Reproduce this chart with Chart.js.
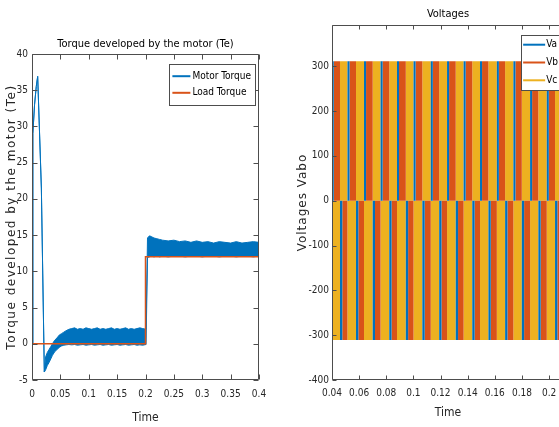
<!DOCTYPE html>
<html><head><meta charset="utf-8">
<script src="https://cdn.jsdelivr.net/npm/chart.js@4.4.1/dist/chart.umd.min.js"></script>
<style>
html,body{margin:0;padding:0;overflow:hidden;background:#fff;width:559px;height:427px;}
#c1{position:absolute;left:0;top:0;}
#c2{position:absolute;left:290px;top:0;}
</style></head><body>
<canvas id="c1" width="290" height="427"></canvas>
<canvas id="c2" width="280" height="427"></canvas>
<script>
// ---------------- Torque chart data ----------------
const torqueTitle = 'Torque developed by the motor (Te)';
const torqueXTicks = [0, 0.05, 0.1, 0.15, 0.2, 0.25, 0.3, 0.35, 0.4];
const torqueYTicks = [-5, 0, 5, 10, 15, 20, 25, 30, 35, 40];
const motorTime  = [0, 0.0015, 0.0045, 0.0075, 0.0100, 0.0165, 0.0217, 0.0240, 0.0270, 0.0300, 0.0330, 0.0360, 0.0400, 0.0440, 0.0480, 0.0520, 0.0560, 0.0600,
  0.065, 0.070, 0.075, 0.080, 0.085, 0.090, 0.095, 0.100, 0.105, 0.110, 0.115, 0.120, 0.125, 0.130, 0.135, 0.140, 0.145, 0.150, 0.155, 0.160, 0.165, 0.170, 0.175, 0.180, 0.185, 0.190, 0.195, 0.201,
  0.2035, 0.207, 0.210, 0.215, 0.220, 0.225, 0.230, 0.240, 0.250, 0.260, 0.270, 0.280, 0.290, 0.300, 0.310, 0.320, 0.330, 0.340, 0.350, 0.360, 0.370, 0.380, 0.390, 0.400];
const motorUpper = [0, 29, 33, 35.5, 36.9, 21.5, -3.9, -1.8, -1.2, -0.8, -0.4, 0.0, 0.5, 0.8, 1.2, 1.4, 1.6, 1.8,
  2.0, 2.1, 2.2, 2.0, 2.1, 2.0, 2.2, 2.1, 2.0, 2.1, 2.2, 2.0, 2.1, 2.0, 2.1, 2.2, 2.0, 2.1, 2.0, 2.1, 2.2, 2.0, 2.1, 2.0, 2.1, 2.2, 2.1, 2.0,
  14.6, 14.9, 14.8, 14.6, 14.5, 14.4, 14.3, 14.2, 14.3, 14.1, 14.2, 14.0, 14.2, 14.0, 14.1, 13.9, 14.1, 14.0, 13.9, 14.1, 13.9, 14.0, 14.1, 14.0];
const motorLower = [0, 29, 33, 35.5, 36.9, 21.5, -3.9, -3.6, -3.0, -2.6, -2.1, -1.6, -1.1, -0.8, -0.5, -0.3, -0.2, -0.15,
  -0.1, -0.15, -0.1, -0.2, -0.15, -0.1, -0.2, -0.15, -0.1, -0.2, -0.15, -0.1, -0.2, -0.15, -0.1, -0.2, -0.15, -0.1, -0.2, -0.15, -0.1, -0.2, -0.15, -0.1, -0.2, -0.15, -0.2, -0.1,
  11.9, 12.0, 12.1, 12.0, 12.1, 12.0, 12.1, 12.0, 12.1, 12.1, 12.0, 12.1, 12.1, 12.0, 12.1, 12.1, 12.0, 12.1, 12.1, 12.0, 12.1, 12.1, 12.0, 12.1];
const loadTime  = [0, 0.2, 0.2, 0.4];
const loadValue = [0, 0, 12, 12];

// ---------------- Voltage chart data ----------------
const voltTitle = 'Voltages';
const voltXTicks = [0.04, 0.06, 0.08, 0.1, 0.12, 0.14, 0.16, 0.18, 0.2];
const voltYTicks = [-400, -300, -200, -100, 0, 100, 200, 300];
const vPeak = 311;
// switching instants read from the stripes (s)
const edgeA  = [0.0398, 0.0514, 0.0636, 0.0758, 0.0879, 0.1001, 0.1128, 0.1248, 0.1370, 0.1491, 0.1615, 0.1737, 0.1860, 0.1983, 0.2106];
const edgeA2 = [0.0413, 0.0529, 0.0651, 0.0773, 0.0894, 0.1016, 0.1143, 0.1263, 0.1385, 0.1506, 0.1630, 0.1752, 0.1875, 0.1998, 0.2121];
const edgeB  = [0.0459, 0.0577, 0.0700, 0.0822, 0.0944, 0.1066, 0.1190, 0.1312, 0.1434, 0.1553, 0.1676, 0.1799, 0.1921, 0.2044, 0.2167];
const edgeB2 = [0.0476, 0.0594, 0.0717, 0.0839, 0.0961, 0.1083, 0.1207, 0.1329, 0.1451, 0.1570, 0.1693, 0.1816, 0.1938, 0.2061, 0.2184];

const BLUE = '#0072BD', ORANGE = '#D95319', YELLOW = '#EDB120';
const NARROW = "'DejaVu Sans Condensed', 'Liberation Sans Narrow', 'DejaVu Sans'";
const WIDE = "'DejaVu Sans', sans-serif";
const AXC = '#262626';
const tickFont = {family: NARROW, style: 'condensed', size: 10};

function pts(xs, ys) { return xs.map((x, i) => ({x: x, y: ys[i]})); }
function bandPoints(intervals) {
  intervals.sort((a, b) => a[0] - b[0]);
  const out = [];
  intervals.forEach(([s, e, lv]) => {
    out.push({x: s, y: 0}, {x: s, y: lv}, {x: e, y: lv}, {x: e, y: 0});
  });
  return out;
}
const vaInt = [], vbInt = [], vcInt = [];
for (let k = 0; k < edgeA.length; k++) {
  const next = k + 1 < edgeA.length ? edgeA[k + 1] : edgeB2[k] + 0.005;
  vaInt.push([edgeA[k], edgeA2[k], vPeak], [edgeB[k], edgeB2[k], -vPeak]);
  vbInt.push([edgeA2[k], edgeB[k], vPeak], [edgeB2[k], next, -vPeak]);
  vcInt.push([edgeA[k], edgeB[k], -vPeak], [edgeB[k], next, vPeak]);
}

// ---------------- plugins ----------------
const matlabBox = {
  id: 'matlabBox',
  afterLayout(chart, args, o) {
    const s = chart.scales.y;
    if (s && !s._spaced) {
      const orig = s.drawTitle;
      s.drawTitle = function () {
        const c = this.ctx; const prev = c.letterSpacing;
        c.letterSpacing = (o.titleSpacing || 0) + 'px';
        orig.call(this);
        c.letterSpacing = prev || '0px';
      };
      s._spaced = true;
    }
  },
  afterDatasetsDraw(chart, args, o) {
    const {ctx, chartArea: ca, scales: {x, y}} = chart;
    const L = Math.round(ca.left) + 0.5, R = Math.round(ca.right) - 0.5;
    const T = Math.round(ca.top) + 0.5, B = Math.round(ca.bottom) - 0.5;
    ctx.save();
    ctx.strokeStyle = o.color || '#4d4d4d';
    ctx.lineWidth = 1;
    ctx.beginPath();
    ctx.rect(L, T, R - L, B - T);
    const len = o.len || 5;
    x.ticks.forEach(t => {
      const px = Math.round(x.getPixelForValue(t.value)) + 0.5;
      ctx.moveTo(px, B); ctx.lineTo(px, B - len);
      ctx.moveTo(px, T); ctx.lineTo(px, T + len);
    });
    y.ticks.forEach(t => {
      const py = Math.round(y.getPixelForValue(t.value)) + 0.5;
      ctx.moveTo(L, py); ctx.lineTo(L + len, py);
      ctx.moveTo(R, py); ctx.lineTo(R - len, py);
    });
    ctx.stroke();
    ctx.restore();
  }
};
const insideLegend = {
  id: 'insideLegend',
  afterDraw(chart, args, o) {
    const {ctx, chartArea: ca} = chart;
    const items = chart.data.datasets.filter(d => d.label).map(d => ({text: d.label, color: d.legendColor || d.borderColor}));
    ctx.save();
    ctx.font = 'condensed ' + o.fontSize + 'px ' + NARROW;
    const tw = Math.max(...items.map(i => ctx.measureText(i.text).width));
    const w = o.pad + o.lineLen + o.gap + tw + o.padR;
    const h = o.rowH * items.length + o.padV * 2;
    const x = ca.right - o.marginR - w, y = ca.top + o.marginT;
    ctx.fillStyle = '#fff';
    ctx.fillRect(x, y, w, h);
    ctx.strokeStyle = '#4d4d4d';
    ctx.lineWidth = 1;
    ctx.strokeRect(Math.round(x) + 0.5, Math.round(y) + 0.5, Math.round(w), Math.round(h));
    items.forEach((it, i) => {
      const cy = y + o.padV + o.rowH * (i + 0.5);
      ctx.strokeStyle = it.color;
      ctx.lineWidth = o.lineW;
      ctx.beginPath();
      ctx.moveTo(x + o.pad, cy); ctx.lineTo(x + o.pad + o.lineLen, cy);
      ctx.stroke();
      ctx.fillStyle = '#000';
      ctx.textBaseline = 'middle';
      ctx.textAlign = 'left';
      ctx.fillText(it.text, x + o.pad + o.lineLen + o.gap, cy);
    });
    ctx.restore();
  }
};
function fixedTicks(list) { return s => { s.ticks = list.map(v => ({value: v})); }; }

// ---------------- Torque chart ----------------
new Chart(document.getElementById('c1'), {
  type: 'line',
  data: {
    datasets: [
      {label: 'Motor Torque', data: pts(motorTime, motorUpper), borderColor: BLUE, backgroundColor: BLUE, borderWidth: 1, fill: '+1', pointRadius: 0, tension: 0, order: 2},
      {label: '', data: pts(motorTime, motorLower), borderColor: BLUE, backgroundColor: BLUE, borderWidth: 1, fill: false, pointRadius: 0, tension: 0, order: 2},
      {label: 'Load Torque', data: pts(loadTime, loadValue), borderColor: ORANGE, borderWidth: 1.5, fill: false, pointRadius: 0, tension: 0, order: 0}
    ]
  },
  options: {
    responsive: false, animation: false, events: [],
    layout: {padding: {left: 0, right: 31, top: 0, bottom: 0}},
    plugins: {
      legend: {display: false}, tooltip: {enabled: false},
      title: {display: true, fullSize: false, text: torqueTitle, color: '#000', font: {family: NARROW, style: 'condensed', size: 11, weight: 'normal'}, padding: {top: 38, bottom: 2.8}},
      matlabBox: {len: 5, titleSpacing: 1.5},
      insideLegend: {fontSize: 10, pad: 3, lineLen: 18, gap: 2, padR: 4, rowH: 16.6, padV: 3.9, marginR: 4, marginT: 10, lineW: 2}
    },
    scales: {
      x: {type: 'linear', min: 0, max: 0.4,
        grid: {display: false, drawTicks: false}, border: {display: false},
        afterBuildTicks: fixedTicks(torqueXTicks), afterFit: s => { s.height = 47; },
        ticks: {padding: 8, autoSkip: false, maxRotation: 0, color: AXC, font: tickFont, callback: v => String(v)},
        title: {display: true, text: 'Time', color: AXC, font: {family: NARROW, style: 'condensed', size: 12}, padding: {top: 0, bottom: 2}}},
      y: {type: 'linear', min: -5, max: 40,
        grid: {display: false, drawTicks: false}, border: {display: false},
        afterBuildTicks: fixedTicks(torqueYTicks), afterFit: s => { s.width = 32; },
        ticks: {padding: 4, autoSkip: false, color: AXC, font: tickFont, callback: v => String(v)},
        title: {display: true, text: torqueTitle, color: AXC, font: {family: WIDE, size: 12}, padding: {top: 5, bottom: 0}}}
    }
  },
  plugins: [matlabBox, insideLegend]
});

// ---------------- Voltage chart ----------------
new Chart(document.getElementById('c2'), {
  type: 'line',
  data: {
    datasets: [
      {label: 'Va', data: bandPoints(vaInt), borderColor: BLUE, backgroundColor: BLUE, borderWidth: 0, fill: 'origin', pointRadius: 0, tension: 0},
      {label: 'Vb', data: bandPoints(vbInt), borderColor: ORANGE, backgroundColor: ORANGE, borderWidth: 0, fill: 'origin', pointRadius: 0, tension: 0},
      {label: 'Vc', data: bandPoints(vcInt), borderColor: YELLOW, backgroundColor: YELLOW, borderWidth: 0, fill: 'origin', pointRadius: 0, tension: 0}
    ]
  },
  options: {
    responsive: false, animation: false, events: [],
    layout: {padding: {left: 0, right: 6, top: 0, bottom: 0}},
    plugins: {
      legend: {display: false}, tooltip: {enabled: false},
      title: {display: true, fullSize: false, text: voltTitle, color: '#000', font: {family: NARROW, style: 'condensed', size: 11, weight: 'normal'}, padding: {top: 8, bottom: 3.8}},
      matlabBox: {len: 4, titleSpacing: 1},
      insideLegend: {fontSize: 10, pad: 2, lineLen: 22, gap: 1, padR: 3, rowH: 17.8, padV: 0.8, marginR: 3, marginT: 10, lineW: 2}
    },
    scales: {
      x: {type: 'linear', min: 0.04, max: 0.211,
        grid: {display: false, drawTicks: false}, border: {display: false},
        afterBuildTicks: fixedTicks(voltXTicks), afterFit: s => { s.height = 47; },
        ticks: {padding: 7, autoSkip: false, maxRotation: 0, color: AXC, font: tickFont, callback: v => String(v)},
        title: {display: true, text: 'Time', color: AXC, font: {family: NARROW, style: 'condensed', size: 12}, padding: {top: 0, bottom: 7}}},
      y: {type: 'linear', min: -400, max: 392,
        grid: {display: false, drawTicks: false}, border: {display: false},
        afterBuildTicks: fixedTicks(voltYTicks), afterFit: s => { s.width = 42; },
        ticks: {padding: 3, autoSkip: false, color: AXC, font: tickFont, callback: v => String(v)},
        title: {display: true, text: 'Voltages Vabo', color: AXC, font: {family: WIDE, size: 12}, padding: {top: 6, bottom: 0}}}
    }
  },
  plugins: [matlabBox, insideLegend]
});
</script>
</body></html>
